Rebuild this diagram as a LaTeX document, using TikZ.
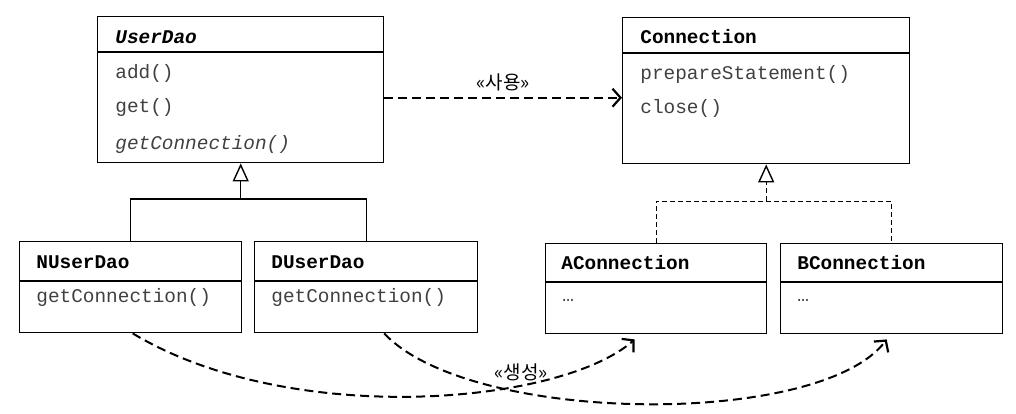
\documentclass[tikz,border=0pt]{standalone}
\usepackage{fontspec}
\setmonofont{Liberation Mono}
\newfontfamily\krfont{Noto Sans CJK KR}
\usetikzlibrary{arrows.meta}

\begin{document}
\begin{tikzpicture}[x=0.5pt,y=-0.5pt,
  classbox/.style={draw,line width=0.7pt,anchor=north west,inner sep=0pt},
  title/.style={anchor=west,inner sep=0pt,font=\fontsize{9.7}{11}\ttfamily\bfseries},
  member/.style={anchor=west,inner sep=0pt,text=black!75,font=\fontsize{9.7}{11}\ttfamily},
  stereo/.style={inner sep=2pt,font=\fontsize{9.5}{11}\krfont},
  inherit/.style={line width=0.7pt,-{Triangle[open,length=9pt,width=8pt,line width=0.7pt]}},
  realize/.style={inherit,line width=0.5pt,dash pattern=on 2.5pt off 1.5pt},
  depend/.style={line width=1pt,dash pattern=on 4.5pt off 2.5pt,-{Straight Barb[length=4pt,width=9pt,line width=1.1pt]}}]
\useasboundingbox (0,0) rectangle (1016,413);
% UserDao
\node[classbox,minimum width=143pt,minimum height=73pt] (userdao) at (97,16) {};
\draw[line width=0.7pt] (userdao.west |- 0,52) -- (userdao.east |- 0,52);
\node[title] (userdaoname) at (115,37) {\itshape UserDao};
\node[member] (add) at (115,73) {add()};
\node[member] (get) at (115,107) {get()};
\node[member] (getconn) at (115,144) {\itshape getConnection()};
% Connection
\node[classbox,minimum width=143.5pt,minimum height=73pt] (connection) at (622,17) {};
\draw[line width=0.7pt] (connection.west |- 0,53) -- (connection.east |- 0,53);
\node[title] (connname) at (640,37) {Connection};
\node[member] (prepare) at (640,74) {prepareStatement()};
\node[member] (close) at (640,108) {close()};
% NUserDao, DUserDao
\node[classbox,minimum width=111pt,minimum height=45.5pt] (nuserdao) at (19,241) {};
\draw[line width=0.7pt] (nuserdao.west |- 0,281) -- (nuserdao.east |- 0,281);
\node[title] (nname) at (36,262) {NUserDao};
\node[member] (ngetconn) at (36,297) {getConnection()};
\node[classbox,minimum width=111.5pt,minimum height=45.5pt] (duserdao) at (254,241) {};
\draw[line width=0.7pt] (duserdao.west |- 0,281) -- (duserdao.east |- 0,281);
\node[title] (dname) at (271,262) {DUserDao};
\node[member] (dgetconn) at (271,297) {getConnection()};
% AConnection, BConnection
\node[classbox,minimum width=110.5pt,minimum height=45pt] (aconn) at (545,243) {};
\draw[line width=0.7pt] (aconn.west |- 0,282) -- (aconn.east |- 0,282);
\node[title] (aname) at (561,263) {AConnection};
\node[member] (adots) at (562,300) {…};
\node[classbox,minimum width=111pt,minimum height=45pt] (bconn) at (780,243) {};
\draw[line width=0.7pt] (bconn.west |- 0,282) -- (bconn.east |- 0,282);
\node[title] (bname) at (797,263) {BConnection};
\node[member] (bdots) at (797,300) {…};
% inheritance
\coordinate (daojoint) at (userdao.south |- 0,199);
\draw[line width=0.7pt] (nuserdao.north) |- (daojoint) -| (duserdao.north);
\draw[inherit] (daojoint) -- (userdao.south);
\coordinate (connjoint) at (connection.south |- 0,201);
\draw[line width=0.5pt,dash pattern=on 2.5pt off 1.5pt] (aconn.north) |- (connjoint) -| (bconn.north);
\draw[realize] (connjoint) -- (connection.south);
% dependencies
\draw[depend] ([yshift=-4pt]userdao.east) -- node[stereo,above=1pt] (use) {«사용»} ([yshift=-3.5pt]connection.west);
\draw[depend] ([xshift=1pt]nuserdao.south) .. controls (290,428) and (560,405) .. ([xshift=-10.75pt,yshift=-2.5pt]aconn.south);
\draw[depend] ([xshift=9pt]duserdao.south) .. controls (470,425) and (820,428) .. ([xshift=-2.5pt,yshift=-2.5pt]bconn.south);
\node[stereo] (create) at (521,372) {«생성»};
\end{tikzpicture}
\end{document}
